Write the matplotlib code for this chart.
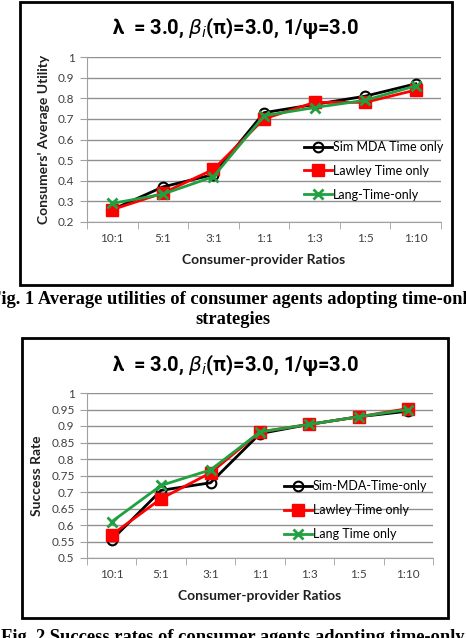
import matplotlib
matplotlib.use('Agg')
import matplotlib.pyplot as plt
from matplotlib.patches import Rectangle

plt.rcParams['font.family'] = ['Lato', 'DejaVu Sans']
plt.rcParams['mathtext.fontset'] = 'dejavusans'

ratios = ['10:1', '5:1', '3:1', '1:1', '1:3', '1:5', '1:10']

# Fig. 1 - consumers' average utility
util_sim = [0.26, 0.37, 0.43, 0.73, 0.77, 0.81, 0.87]
util_lawley = [0.26, 0.34, 0.455, 0.70, 0.78, 0.78, 0.84]
util_lang = [0.29, 0.335, 0.42, 0.715, 0.755, 0.79, 0.86]

# Fig. 2 - success rate
succ_sim = [0.555, 0.705, 0.728, 0.877, 0.905, 0.928, 0.945]
succ_lawley = [0.57, 0.68, 0.758, 0.882, 0.905, 0.928, 0.953]
succ_lang = [0.61, 0.72, 0.767, 0.882, 0.905, 0.928, 0.95]

title = r'λ  = 3.0, $\beta_i$(π)=3.0, 1/ψ=3.0'
W, H = 466, 638

fig = plt.figure(figsize=(W / 100, H / 100), dpi=100)
fig.patch.set_facecolor('white')


def box(x0, y0, x1, y1):
    fig.add_artist(Rectangle((x0 / W, 1 - y1 / H), (x1 - x0) / W, (y1 - y0) / H,
                             transform=fig.transFigure, fill=False, lw=2, ec='black'))


def px_axes(x0, y0, x1, y1):
    return fig.add_axes([x0 / W, 1 - y1 / H, (x1 - x0) / W, (y1 - y0) / H])


def draw(ax, sim, lawley, lang, names, ylab, yticks, ylabels):
    x = range(len(ratios))
    ax.plot(x, sim, color='black', lw=2, marker='o', ms=7, mfc='none', mew=1.5, label=names[0], zorder=3)
    ax.plot(x, lawley, color='#ff0000', lw=2, marker='s', ms=9, label=names[1], zorder=4)
    ax.plot(x, lang, color='#20a040', lw=2, marker='x', ms=7, mew=2, label=names[2], zorder=5)
    ax.set_xlim(-0.5, len(ratios) - 0.5)
    ax.set_ylim(yticks[0], yticks[-1])
    ax.set_yticks(yticks)
    ax.set_yticklabels(ylabels, fontsize=8.5, color='#404040')
    ax.set_xticks(list(x))
    ax.set_xticklabels(ratios, fontsize=8.5, color='#404040')
    ax.set_xticks([i + 0.5 for i in range(-1, len(ratios))], minor=True)
    ax.tick_params(axis='x', which='major', length=0, pad=8)
    ax.tick_params(axis='x', which='minor', length=5, color='#a0a0a0')
    ax.tick_params(axis='y', length=5, color='#a0a0a0', pad=4)
    ax.grid(axis='y', color='#909090', lw=1)
    ax.set_axisbelow(True)
    for s in ['top', 'right']:
        ax.spines[s].set_visible(False)
    for s in ['left', 'bottom']:
        ax.spines[s].set_color('#a0a0a0')
    ax.set_xlabel('Consumer-provider Ratios', fontsize=10, fontweight='bold', color='#202020', labelpad=7)
    ax.set_ylabel(ylab, fontsize=10, fontweight='bold', color='#202020', labelpad=6)


# chart 1
box(20, 2, 452, 285)
ax1 = px_axes(87, 57, 441, 222)
draw(ax1, util_sim, util_lawley, util_lang,
     ['Sim MDA Time only', 'Lawley Time only', 'Lang-Time-only'],
     "Consumers' Average Utility",
     [0.2, 0.3, 0.4, 0.5, 0.6, 0.7, 0.8, 0.9, 1.0],
     ['0.2', '0.3', '0.4', '0.5', '0.6', '0.7', '0.8', '0.9', '1'])
ax1.legend(loc='center left', bbox_to_anchor=(0.6, 0.31), frameon=False, fontsize=9,
           handlelength=2.2, handletextpad=0.1, labelspacing=0.95, borderaxespad=0)
fig.text(235 / W, 1 - 28 / H, title, ha='center', va='center', fontsize=14.5,
         fontweight='bold', family=['Roboto', 'DejaVu Sans'])

fig.text(233 / W, 1 - 299 / H, 'Fig. 1 Average utilities of consumer agents adopting time-only',
         ha='center', va='center', fontsize=13.3, fontweight='bold', family='Liberation Serif')
fig.text(233 / W, 1 - 320 / H, 'strategies',
         ha='center', va='center', fontsize=13.3, fontweight='bold', family='Liberation Serif')

# chart 2
box(22, 338, 448, 618)
ax2 = px_axes(87, 393, 433, 558)
s_ticks = [0.5, 0.55, 0.6, 0.65, 0.7, 0.75, 0.8, 0.85, 0.9, 0.95, 1.0]
draw(ax2, succ_sim, succ_lawley, succ_lang,
     ['Sim-MDA-Time-only', 'Lawley Time only', 'Lang Time only'],
     'Success Rate', s_ticks,
     ['0.5', '0.55', '0.6', '0.65', '0.7', '0.75', '0.8', '0.85', '0.9', '0.95', '1'])
ax2.legend(loc='center left', bbox_to_anchor=(0.555, 0.29), frameon=False, fontsize=9,
           handlelength=2.2, handletextpad=0.1, labelspacing=0.95, borderaxespad=0)
fig.text(235 / W, 1 - 365 / H, title, ha='center', va='center', fontsize=14.5,
         fontweight='bold', family=['Roboto', 'DejaVu Sans'])

fig.text(233 / W, 1 - 629 / H, 'Fig. 2 Success rates of consumer agents adopting time-only',
         ha='center', va='top', fontsize=13.3, fontweight='bold', family='Liberation Serif')

fig.savefig('out.png', dpi=100, facecolor='white')
